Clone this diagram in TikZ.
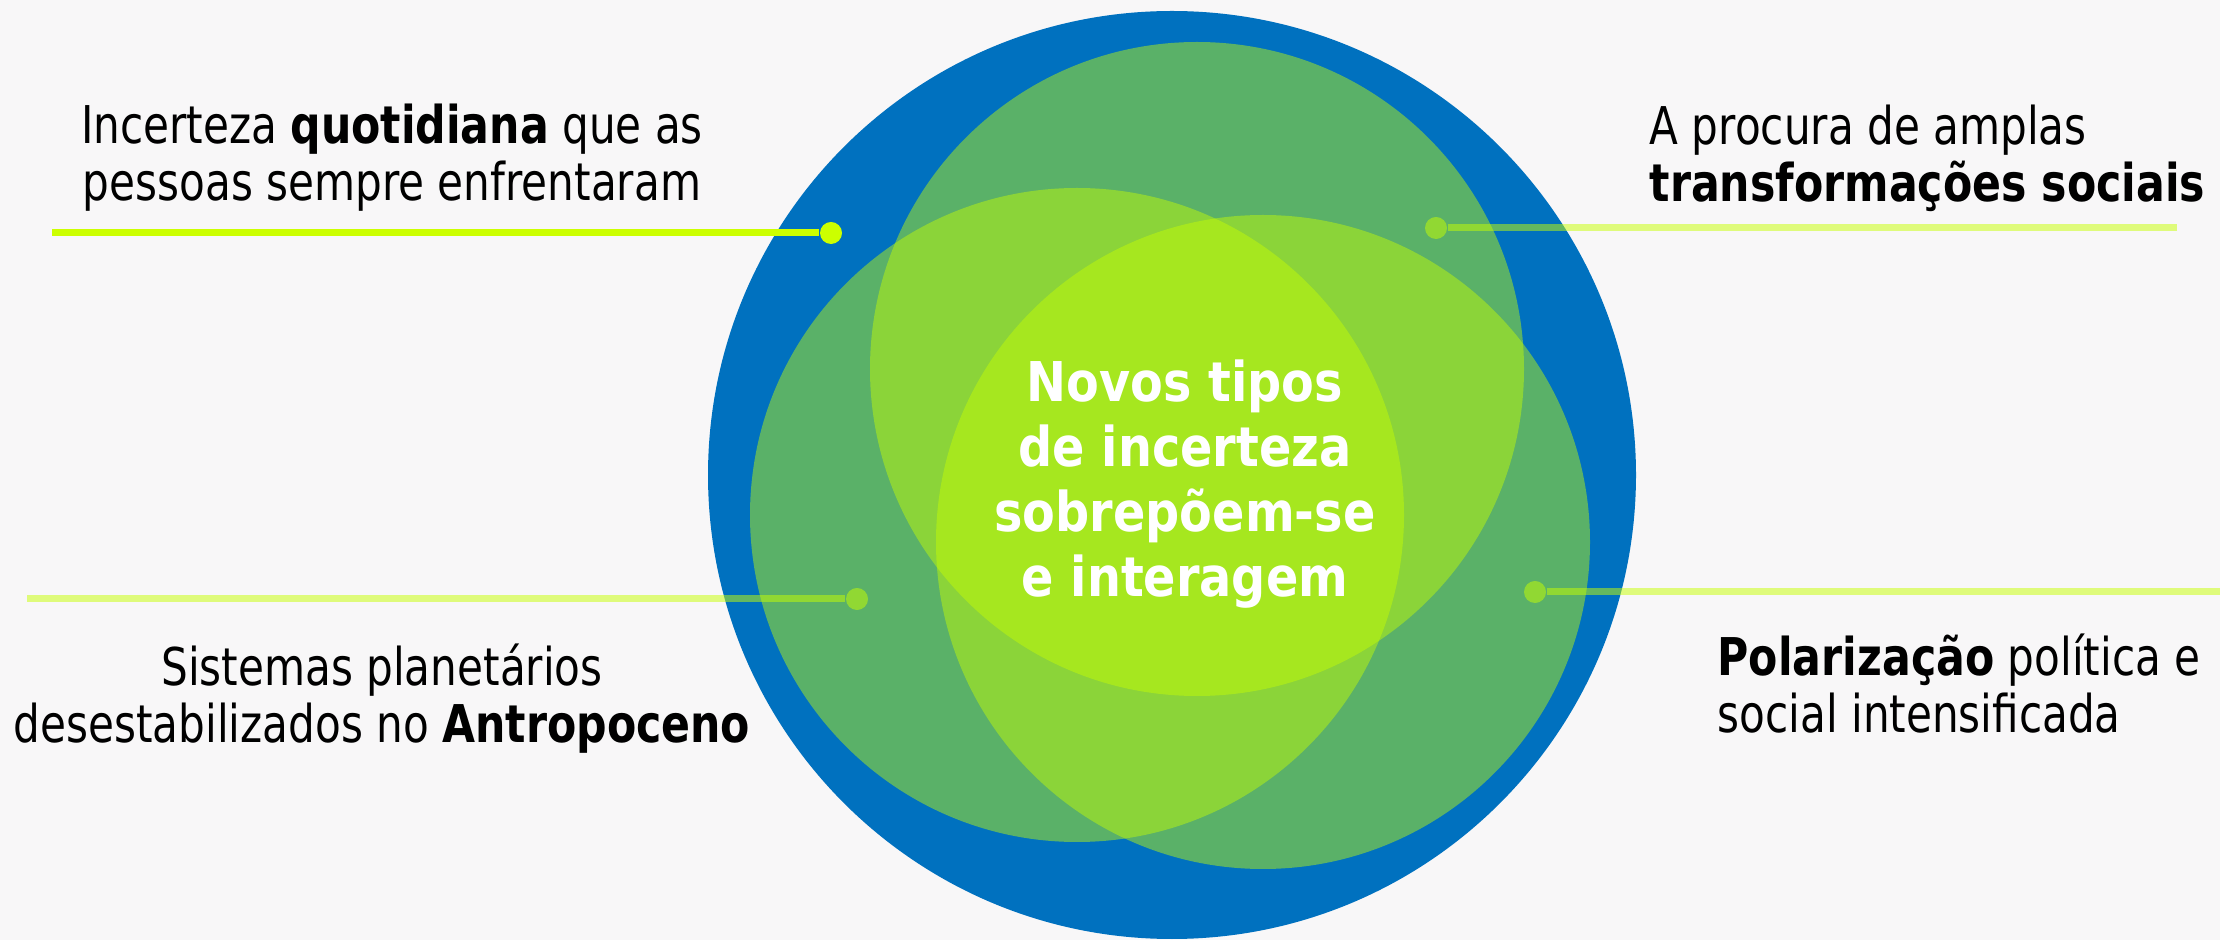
\documentclass[tikz,border=0pt]{standalone}
\usepackage{fontspec}
\setmainfont{DejaVu Sans}[FakeStretch=0.81,BoldFeatures={FakeStretch=0.87}]
\newfontfamily\sidefont{DejaVu Sans}[FakeStretch=0.81,BoldFeatures={FakeStretch=0.82}]
\usetikzlibrary{positioning}
\definecolor{bgcol}{HTML}{F8F7F8}
\definecolor{ringblue}{HTML}{0071BF}
\definecolor{lime}{RGB}{200,255,0}
\definecolor{limeline}{HTML}{CCFF00}

\begin{document}
\begin{tikzpicture}[x=0.01cm, y=-0.01cm,
    venn/.style={fill=lime, fill opacity=0.45},
    link/.style={line width=0.7mm, draw=lime, draw opacity=0.5},
    bullet/.style={circle, fill=lime, fill opacity=0.5, inner sep=0pt, minimum size=2.2mm},
    sidetext/.style={font=\sidefont\fontsize{14.8}{16.2}\selectfont, inner sep=0pt, text=black},
    core/.style={font=\fontsize{15.6}{18.5}\selectfont\bfseries, align=center, text=white, inner sep=0pt}
]
    % Background
    \fill[bgcol] (0,0) rectangle (2220,940);
    \useasboundingbox (0,0) rectangle (2220,940);

    % Circles
    \fill[ringblue] (1172,475) circle[radius=464];
    \foreach \cx/\cy in {1197/369, 1077/515, 1263/542}
        \fill[venn] (\cx,\cy) circle[radius=327];

    % Markers
    \node[bullet, fill=limeline, fill opacity=1] (tldot) at (831,233) {};
    \node[bullet] (trdot) at (1436,228) {};
    \node[bullet] (bldot) at (857,599) {};
    \node[bullet] (brdot) at (1535,592) {};
    \coordinate (tlend) at (52,233);
    \coordinate (trend) at (2177,228);
    \coordinate (blend) at (27,599);
    \coordinate (brend) at (2220,592);

    \draw[link, draw=limeline, draw opacity=1] (tlend) -- (tldot);
    \draw[link] (trdot) -- (trend);
    \draw[link] (blend) -- (bldot);
    \draw[link] (brdot) -- (brend);

    % Labels
    \node[sidetext, align=center] (everyday) at (392,158) {Incerteza \textbf{quotidiana} que as\\pessoas sempre enfrentaram};
    \node[sidetext, align=left, anchor=west] (social) at (1649,158) {A procura de amplas\\\textbf{transformações sociais}};
    \node[sidetext, align=center] (planet) at (382,699) {Sistemas planetários\\desestabilizados no \textbf{Antropoceno}};
    \node[sidetext, align=left, anchor=west] (polar) at (1717,684) {\textbf{Polarização} política e\\social intensificada};
    \node[core] (centre) at (1185,484) {Novos tipos\\de incerteza\\sobrepõem-se\\e interagem};
\end{tikzpicture}
\end{document}
